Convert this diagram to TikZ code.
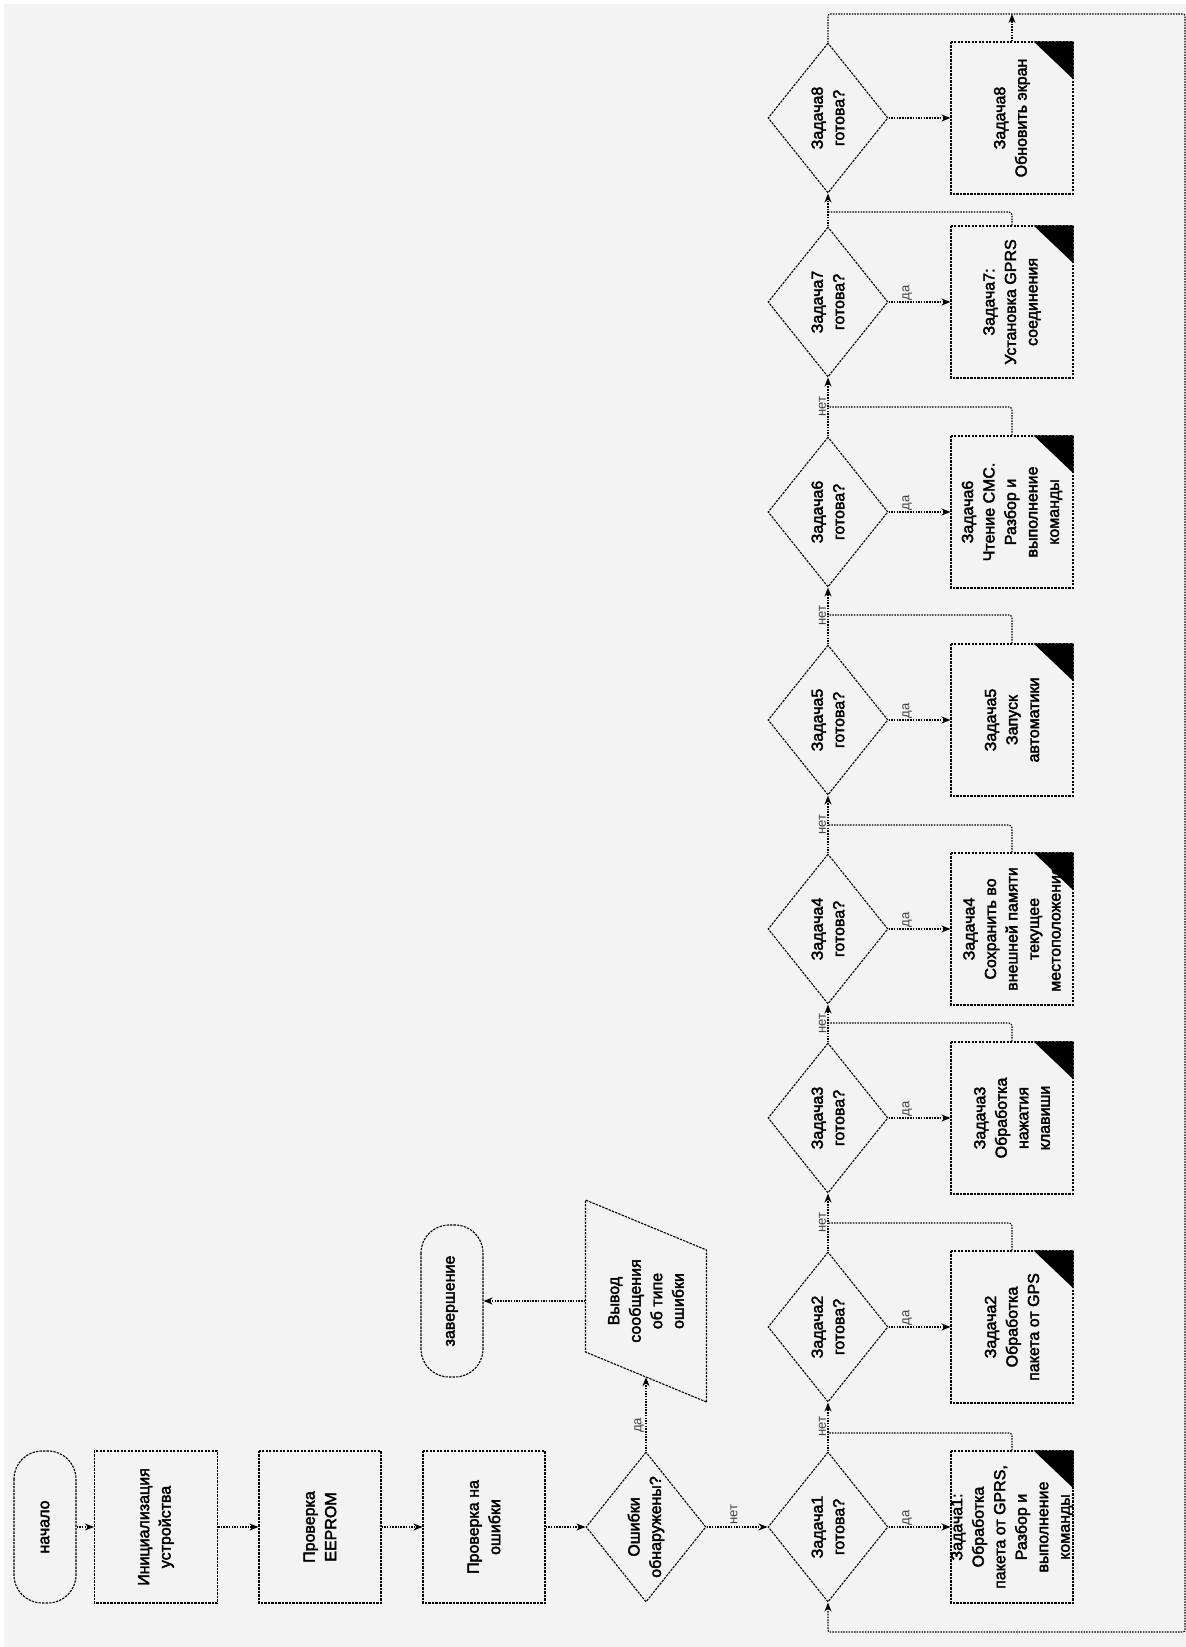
\documentclass[tikz,border=0pt]{standalone}
\usepackage{fontspec}
\setmainfont{Liberation Sans}
\newfontfamily\flowfont{Liberation Sans}[FakeBold=2.5]
\usetikzlibrary{arrows.meta,shapes.geometric}
\definecolor{paper}{RGB}{243,243,243}
\begin{document}
\begin{tikzpicture}[x=1pt,y=1pt,rotate=90,transform shape,
  every node/.style={font=\flowfont\fontsize{16}{21.5}\selectfont,align=center,inner sep=0pt},
  ln/.style={line width=1.1pt,dash pattern=on 2.4pt off 1.1pt},
  link/.style={line width=1.1pt,dash pattern=on 1.5pt off 1.2pt},
  arr/.style={link,-{Stealth[length=9pt,width=7pt]}},
  block/.style={draw,ln,minimum width=152pt,minimum height=122pt},
  term/.style={draw,ln,rounded corners=28pt,minimum width=152pt,minimum height=62pt},
  ask/.style={draw,ln,diamond,aspect=1.25,minimum width=150pt,minimum height=120pt},
  ans/.style={font=\fontsize{13}{15}\selectfont,text=black!75,inner sep=1.5pt}]
\fill[white](0,0)rectangle(1647,1186);\fill[paper](0,0)rectangle(1643,1182);
\node[term](start)at(120,1141){начало};
\node[block,minimum height=123pt](init)at(120,1030){Инициализация\\устройства};
\node[block](eeprom)at(120,866){Проверка\\EEPROM};
\node[block](check)at(120,702){Проверка на\\ошибки};
\node[ask](err)at(120,540){Ошибки\\обнаружены?};
\node[minimum width=152pt,minimum height=121pt](msg)at(346,540){Вывод\\сообщения\\об типе\\ошибки};
\draw[ln](245,479.5)--(397,479.5)--(447,600.5)--(295,600.5)--cycle;
\node[term](stop)at(346,734){завершение};
\draw[arr](start)--(init);\draw[arr](init)--(eeprom);\draw[arr](eeprom)--(check);\draw[arr](check)--(err);
\draw[arr](err)--node[ans,above,pos=.35]{да}(msg.west);
\draw[arr](msg.north)--(stop);
\foreach\i/\x/\txt in{1/120/{Задача1:\\Обработка\\пакета от GPRS,\\Разбор и\\выполнение\\команды},
  2/320/{Задача2\\Обработка\\пакета от GPS},3/529/{Задача3\\Обработка\\нажатия\\клавиши},
  4/718/{Задача4\\Сохранить во\\внешней памяти\\текущее\\местоположение},5/927/{Задача5\\Запуск\\автоматики},
  6/1135/{Задача6\\Чтение СМС.\\Разбор и\\выполнение\\команды},7/1345/{Задача7:\\Установка GPRS\\соединения},
  8/1529/{Задача8\\Обновить экран}}{
  \node[ask](d\i)at(\x,358){Задача\i\\готова?};
  \node[block](t\i)at(\x,174){};\node(w\i)at(t\i.center){\txt};
  \fill(t\i.south east)--++(0,40)--++(-38,-40)--cycle;
  \draw[arr](d\i)--(t\i);}
\draw[arr](err)--node[ans,right,pos=.45]{нет}(d1);
\foreach\i in{1,...,7}{\path(d\i)--node[ans,right,pos=.3]{да}(t\i);}
\foreach\i/\r in{1/214,2/424,3/624,4/822,5/1032,6/1240,7/1435}{\draw[link,rounded corners=3pt](t\i.east)-|(\r,358);}
\foreach\i/\j in{1/2,2/3,3/4,4/5,5/6,6/7}{\draw[arr](d\i)--node[ans,above]{нет}(d\j);}
\draw[arr](d7)--(d8);
\draw[arr](t8)--(1633,174);
\draw[arr,rounded corners=2pt](d8)--(1633,358)--(1633,1)--(15,1)--(15,358)--(d1);
\end{tikzpicture}
\end{document}
